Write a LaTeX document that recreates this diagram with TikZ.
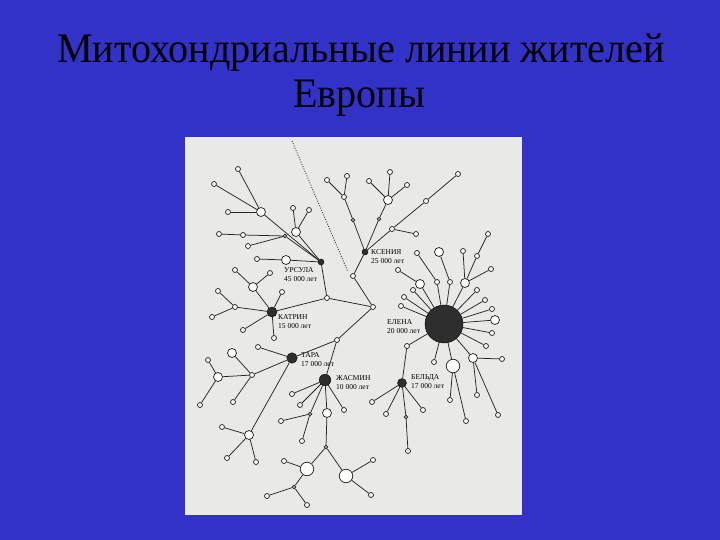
\documentclass[tikz,border=0pt]{standalone}
\usepackage{fontspec}
\setmainfont{Liberation Serif}
\newfontfamily\headfont[FakeStretch=0.955]{Liberation Serif}
\usepackage{tikz}
\definecolor{slideblue}{RGB}{50,50,200}
\definecolor{paper}{RGB}{233,233,231}

\begin{document}
\begin{tikzpicture}[x=1pt, y=-1pt, % pixel grid, y down
    leaf/.style={circle, draw=black!85, fill=white, line width=0.75pt, inner sep=0pt, minimum size=5pt},
    knot/.style={leaf, minimum size=3.5pt},
    midleaf/.style={leaf, minimum size=9pt},
    bigleaf/.style={leaf, minimum size=13.5pt},
    mother/.style={circle, draw=black, fill=black!82, inner sep=0pt, minimum size=#1},
    branch/.style={draw=black!85, line width=0.75pt},
    clan/.style={anchor=north west, inner sep=0pt, align=left, font=\fontsize{7.5}{9}\selectfont},
    headline/.style={anchor=base, text=black, font=\headfont\fontsize{42}{48}\selectfont}]

    \useasboundingbox (0,0) rectangle (720,540);
    \fill[slideblue] (0,0) rectangle (720,540);
    \fill[paper] (185,137) rectangle (522,515);

    \node[headline] (head1) at (361,63) {Митохондриальные линии жителей};
    \node[headline] (head2) at (359,108) {Европы};

    % the seven mothers
    \node[mother=6pt] (U) at (321,262) {};
    \node[mother=6pt] (X) at (365,252) {};
    \node[mother=10pt] (K) at (272,312) {};
    \node[mother=10.5pt] (T) at (292,358) {};
    \node[mother=11.5pt] (J) at (325,380) {};
    \node[mother=9pt] (B) at (402,383) {};
    \node[mother=38pt] (E) at (444,324) {};

    \node[clan] (lblU) at (284,267) {УРСУЛА\\45 000 лет};
    \node[clan] (lblX) at (371,249) {КСЕНИЯ\\25 000 лет};
    \node[clan] (lblK) at (278,314) {КАТРИН\\15 000 лет};
    \node[clan] (lblT) at (301,352) {ТАРА\\17 000 лет};
    \node[clan] (lblJ) at (336,375) {ЖАСМИН\\10 000 лет};
    \node[clan] (lblB) at (411,374) {БЕЛЬДА\\17 000 лет};
    \node[clan] (lblE) at (387,319) {ЕЛЕНА\\20 000 лет};

    % small lineages
    \foreach \n/\x/\y in {ua1/238/169, ua2/214/184, ua3/228/212, ub1/243/235, ub2/219/234, ub3/248/246,
        uc1/293/208, uc2/309/210, ud1/257/259, j1/327/298, j2/373/307, x1/353/276, j3/337/340,
        xa1/344/197, xa11/327/180, xa12/347/176, xb11/369/181, xb12/390/172, xb13/407/185,
        xc/392/229, xc1/416/234, xc2/426/201, xc3/458/174,
        ka1/235/270, ka2/270/273, kb/235/307, kb1/218/291, kb2/212/317, kc/282/292, kd/243/330, ke/274/338,
        ta/258/347, tb/252/375, tb21/208/360, tb22/200/405, tb3/233/402, tc1/222/427, tc2/227/458, tc3/256/462,
        ja/292/394, jb/300/405, jc1/281/421, jc2/302/441, jf1/284/461, jg1/267/496, jg2/307/505,
        jh1/373/460, jh2/371/495, ji/344/410,
        ba/372/402, bb/386/414, bc/423/410, bd1/408/451,
        ea1/398/270, eb/437/282, eb1/417/253, ec/450/282, ed1/463/251, ed2/477/256, ed21/488/234, ed3/491/269,
        ef/477/290, eg/485/300, eh/492/309, ej/492/333, ek/486/346, el/413/290, em/404/297, en/401/306,
        eo/407/346, ep/434/362, eq1/450/400, eq2/466/421, er1/477/395, er2/498/415, er3/502/359}
        \node[leaf] (\n) at (\x,\y) {};
    \foreach \n/\x/\y in {ub/285/236, xa/353/220, xb/379/219, jc/310/414, je/326/447, jg/294/487, bd/406/417}
        \node[knot] (\n) at (\x,\y) {};
    \foreach \n/\x/\y in {ua/261/212, uc/296/232, ud/286/260, xb1/388/200, ka/253/287, tb1/232/353,
        tb2/218/377, tc/249/435, jd/327/413, ea/420/284, ec1/439/252, ed/465/283, ei/495/320, er/473/358}
        \node[midleaf] (\n) at (\x,\y) {};
    \foreach \n/\x/\y in {jf/307/469, jh/346/476, eq/453/366}
        \node[bigleaf] (\n) at (\x,\y) {};

    % branches
    \foreach \a/\b in {U/ua, ua/ua1, ua/ua2, ua/ua3, U/ub, ub/ub1, ub1/ub2, ub/ub3, U/uc, uc/uc1, uc/uc2,
        U/ud, ud/ud1, U/j1, K/j1, j1/j2, j2/x1, x1/X, j2/j3, j3/T, j3/J,
        X/xa, xa/xa1, xa1/xa11, xa1/xa12, X/xb, xb/xb1, xb1/xb11, xb1/xb12, xb1/xb13,
        X/xc, xc/xc1, xc/xc2, xc2/xc3,
        K/ka, ka/ka1, ka/ka2, K/kb, kb/kb1, kb/kb2, K/kc, K/kd, K/ke,
        T/ta, T/tb, tb/tb1, tb/tb2, tb2/tb21, tb2/tb22, tb/tb3, T/tc, tc/tc1, tc/tc2, tc/tc3,
        J/ja, J/jb, J/jc, jc/jc1, jc/jc2, J/jd, jd/je, je/jf, jf/jf1, jf/jg, jg/jg1, jg/jg2,
        je/jh, jh/jh1, jh/jh2, J/ji,
        B/ba, B/bb, B/bc, B/bd, bd/bd1, eo/B,
        E/ea, ea/ea1, E/eb, eb/eb1, E/ec, ec/ec1, E/ed, ed/ed1, ed/ed2, ed2/ed21, ed/ed3,
        E/ef, E/eg, E/eh, E/ei, E/ej, E/ek, E/el, E/em, E/en, E/eo, E/ep,
        E/eq, eq/eq1, eq/eq2, E/er, er/er1, er/er2, er/er3}
        \draw[branch] (\a) -- (\b);

    % dotted root line
    \coordinate (rootA) at (292,141);
    \coordinate (rootB) at (348,272);
    \draw[black!80, line width=0.9pt, dash pattern=on 0.9pt off 1.6pt] (rootA) -- (rootB);
\end{tikzpicture}
\end{document}
